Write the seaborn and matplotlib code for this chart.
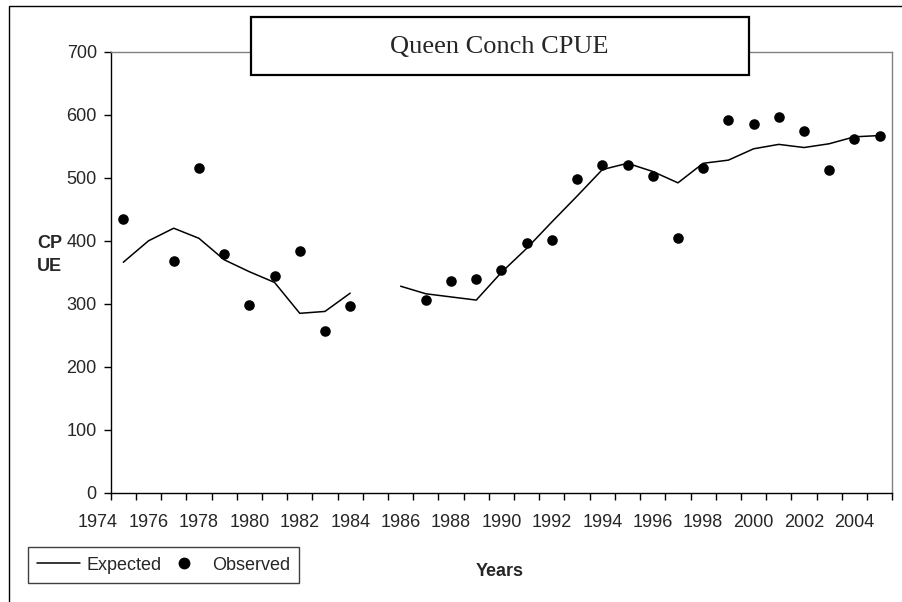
import numpy as np
import pandas as pd
import matplotlib
matplotlib.use("Agg")
import matplotlib.pyplot as plt
import matplotlib.transforms as mtransforms
from matplotlib.patches import Rectangle
from matplotlib.lines import Line2D
import seaborn as sns

# DATA
years = list(range(1975, 2006))
expected = [366, 400, 420, 404, 370, 351, 334, 285, 288, 317, np.nan,
            328, 316, 311, 306, 350, 388, 430, 471, 513, 523, 510, 492,
            523, 528, 546, 553, 548, 554, 565, 567]
observed = [434, np.nan, 368, 515, 379, 298, 344, 384, 257, 296, np.nan,
            np.nan, 306, 336, 339, 354, 397, 401, 498, 520, 520, 503, 404,
            515, 591, 586, 596, 574, 513, 561, 566]
label_years = list(range(1974, 2005, 2))
y_ticks = [0, 100, 200, 300, 400, 500, 600, 700]

df = pd.DataFrame({"year": years, "expected": expected, "observed": observed})
# split expected line at the missing year so it is not joined
df["segment"] = df["expected"].isna().cumsum()
exp_df = df.dropna(subset=["expected"])
obs_df = df.dropna(subset=["observed"])

sns.set_style("white")
plt.rcParams["font.family"] = ["Liberation Sans", "DejaVu Sans"]

fig = plt.figure(figsize=(9.02, 6.02), dpi=100)
ax = fig.add_axes([0.1227, 0.1811, 0.8665, 0.7330])

sns.lineplot(data=exp_df, x="year", y="expected", units="segment",
             estimator=None, color="black", linewidth=1.1, ax=ax)
sns.scatterplot(data=obs_df, x="year", y="observed", color="black",
                s=58, edgecolor="black", linewidth=0, ax=ax, zorder=3)

ax.set_xlim(1974.5, 2005.5)
ax.set_ylim(0, 700)
ax.set_yticks(y_ticks)
ax.set_yticklabels([str(v) for v in y_ticks], fontsize=13)
ax.set_xticks(np.arange(1974.5, 2006, 1.0))
ax.set_xticklabels([])
ax.tick_params(axis="both", direction="out", length=5, width=1,
               color="black", left=True, bottom=True, pad=5)
ax.set_xlabel("")
ax.set_ylabel("")

for side in ["left", "bottom"]:
    ax.spines[side].set_color("black")
    ax.spines[side].set_linewidth(1.0)
for side in ["top", "right"]:
    ax.spines[side].set_visible(True)
    ax.spines[side].set_color("#808080")
    ax.spines[side].set_linewidth(1.0)

# year labels sit half a category left of the ticks
trans = mtransforms.blended_transform_factory(ax.transData, ax.transAxes)
for yr in label_years:
    ax.text(yr, -0.068, str(yr), transform=trans, ha="center", va="center",
            fontsize=13, clip_on=False)

# axis titles
fig.text(37 / 902, 1 - 255 / 602, "CP\nUE", ha="left", va="center",
         fontsize=13, fontweight="bold", linespacing=1.45)
fig.text(500 / 902, 1 - 572 / 602, "Years", ha="center", va="center",
         fontsize=13, fontweight="bold")

# title box
fig.add_artist(Rectangle((250.5 / 902, 1 - 74.7 / 602), 498.8 / 902, 58 / 602,
                         transform=fig.transFigure, facecolor="white",
                         edgecolor="black", linewidth=1.6, zorder=5))
fig.text(499.5 / 902, 1 - 53.3 / 602, "Queen Conch CPUE", ha="center",
         va="baseline", fontsize=19, family="Liberation Serif", zorder=6)

# outer chart border
fig.add_artist(Rectangle((9 / 902, -0.05), 1.1, 1 - 5.5 / 602 + 0.05,
                         transform=fig.transFigure, facecolor="none",
                         edgecolor="black", linewidth=1.0, zorder=1))

# legend
handles = [Line2D([], [], color="black", linewidth=1.1),
           Line2D([], [], color="black", marker="o", linestyle="none",
                  markersize=7.5)]
leg = fig.legend(handles, ["Expected", "Observed"], ncol=2,
                 loc="center", bbox_to_anchor=(163.5 / 902, 1 - 565 / 602),
                 fontsize=13, frameon=True, fancybox=False, framealpha=1,
                 edgecolor="#404040", handlelength=2.4, handletextpad=0.35,
                 columnspacing=0.05, borderpad=0.5, borderaxespad=0)
leg.get_frame().set_linewidth(1.0)

fig.savefig("out.png", dpi=100)
